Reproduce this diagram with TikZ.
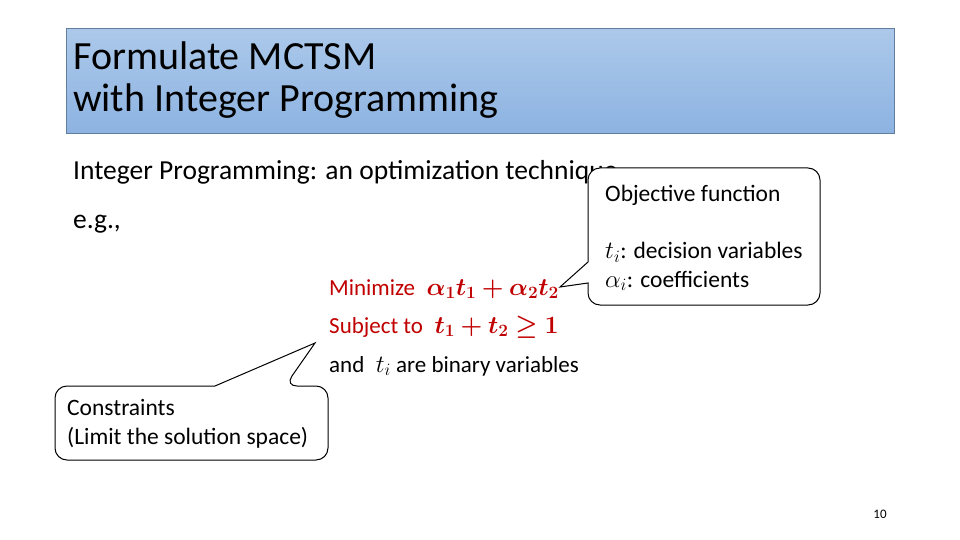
\documentclass[tikz,border=0pt]{standalone}
\usepackage{fontspec}
\setmainfont{Carlito}
\usepackage{amsmath,amssymb,bm}
\definecolor{tb}{HTML}{9DBFE6}
\definecolor{tbd}{HTML}{8DB3E2}
\definecolor{red1}{HTML}{C00000}
\begin{document}
\begin{tikzpicture}[x=1pt,y=-1pt,
  txt/.style={inner sep=0pt,anchor=west},
  callout/.style={draw=black,line width=1pt,fill=white,rounded corners=12pt}]
\useasboundingbox (0,0) rectangle (960,540);
\node[draw=tbd!70!black,line width=0.6pt,top color=tb!85!white,bottom color=tbd,minimum width=828pt,minimum height=105pt,anchor=north west,inner sep=0pt] (title) at (66,28) {};
\node[txt,align=left,font=\fontsize{40}{42}\selectfont] (tt) at (73,80.5) {Formulate MCTSM\\with Integer Programming};
\node[txt,font=\fontsize{27.5}{30}\selectfont] (ip) at (73,172) {Integer Programming: an optimization technique};
\node[txt,font=\fontsize{27.5}{30}\selectfont] (eg) at (73,224) {e.g.,};
% objective callout
\draw[callout] (588,262) -- (588,168) -- (820,168) -- (820,305) -- (588,305) [sharp corners]-- (588,283) -- (560,287) -- cycle;
\node[txt,font=\fontsize{23.5}{26}\selectfont] (of) at (605,195) {Objective function};
\node[txt,font=\fontsize{23.5}{26}\selectfont] (dv) at (605,252) {$t_i$: decision variables};
\node[txt,font=\fontsize{23.5}{26}\selectfont] (co) at (605,281) {$\alpha_i$: coefficients};
% constraints callout
\draw[callout] (215,386) -- (55,386) -- (55,460) -- (328,460) -- (328,386) -- (285,386) [sharp corners]-- (315,343) -- cycle;
\node[txt,align=left,font=\fontsize{23.5}{29}\selectfont] (cs) at (67,424) {Constraints\\(Limit the solution space)};
% formulas
\node[txt,text=red1,font=\fontsize{23}{26}\selectfont] (mn) at (329,289) {Minimize\enspace $\bm{\alpha_1 t_1+\alpha_2 t_2}$};
\node[txt,text=red1,font=\fontsize{23}{26}\selectfont] (st) at (329,327) {Subject to\enspace $\bm{t_1+t_2\geq 1}$};
\node[txt,font=\fontsize{23}{26}\selectfont] (an) at (329,366) {and\enspace $t_i$ are binary variables};
\node[font=\fontsize{13}{15}\selectfont] (pg) at (880,514) {10};
\end{tikzpicture}
\end{document}
